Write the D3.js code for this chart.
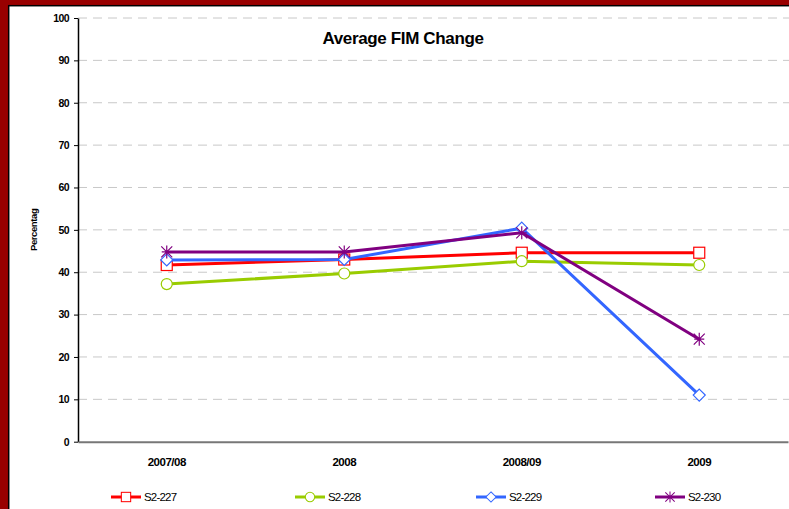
<!DOCTYPE html>
<html>
<head>
<meta charset="utf-8">
<script src="https://cdn.jsdelivr.net/npm/d3@7"></script>
<style>
  body { margin: 0; padding: 0; background: #990000; }
  svg { display: block; font-family: "Liberation Sans", Arial, sans-serif; }
</style>
</head>
<body>
<div id="chart"></div>
<script>
// chart data
const categories = ["2007/08", "2008", "2008/09", "2009"];
const seriesNames = ["S2-227", "S2-228", "S2-229", "S2-230"];
const s2_227 = [41.7, 43.0, 44.6, 44.6];
const s2_228 = [37.2, 39.7, 42.6, 41.7];
const s2_229 = [42.9, 43.0, 50.4, 11.0];
const s2_230 = [44.8, 44.8, 49.3, 24.2];
const yTicks = [0, 10, 20, 30, 40, 50, 60, 70, 80, 90, 100];
const colors = ["#ff0000", "#99cc00", "#3366ff", "#800080"];
const markers = ["square", "circle", "diamond", "star"];

const series = seriesNames.map((name, i) => ({
  name: name,
  values: [s2_227, s2_228, s2_229, s2_230][i],
  color: colors[i],
  marker: markers[i],
}));

const width = 789, height = 509;
const plot = { left: 78, right: 788, top: 18, bottom: 441.7 };

const svg = d3.select("#chart").append("svg")
  .attr("width", width)
  .attr("height", height);

// frame: dark red border with black inner edge
svg.append("rect").attr("width", width).attr("height", height).attr("fill", "#990000");
svg.append("rect")
  .attr("x", 8.7).attr("y", 5.7)
  .attr("width", width + 20).attr("height", height + 20)
  .attr("fill", "#fff").attr("stroke", "#000").attr("stroke-width", 1.5);

const x = d3.scaleBand().domain(categories).range([plot.left, plot.right]);
const y = d3.scaleLinear().domain([0, 100]).range([plot.bottom, plot.top]);

// gridlines
svg.append("g")
  .selectAll("line")
  .data(yTicks.filter((d) => d > 0))
  .join("line")
  .attr("x1", plot.left).attr("x2", plot.right + 5)
  .attr("y1", (d) => y(d)).attr("y2", (d) => y(d))
  .attr("stroke", "#c8c8c8")
  .attr("stroke-width", 1)
  .attr("stroke-dasharray", "9,6");

// y axis
const yAxis = svg.append("g")
  .attr("transform", `translate(${plot.left},0)`)
  .call(d3.axisLeft(y).tickValues(yTicks).tickSize(4).tickSizeOuter(0).tickPadding(5));
yAxis.select(".domain").attr("stroke", "#000").attr("stroke-width", 1.5);
yAxis.selectAll(".tick line").attr("stroke", "#000").attr("stroke-width", 1);
yAxis.selectAll("text")
  .attr("font-size", 10.5).attr("font-weight", "bold")
  .attr("letter-spacing", "-0.6px")
  .attr("fill", "#000");

// x axis
const xAxis = svg.append("g")
  .attr("transform", `translate(0,${plot.bottom})`)
  .call(d3.axisBottom(x).tickSize(0).tickSizeOuter(0).tickPadding(16));
xAxis.select(".domain").attr("stroke", "#777").attr("stroke-width", 2);
xAxis.selectAll("text")
  .attr("font-size", 11.5).attr("font-weight", "bold")
  .attr("letter-spacing", "-0.5px")
  .attr("fill", "#000");

// y axis title
svg.append("text")
  .attr("transform", `translate(37,${(plot.top + plot.bottom) / 2}) rotate(-90)`)
  .attr("text-anchor", "middle")
  .attr("font-size", 9.5).attr("font-weight", "bold")
  .attr("letter-spacing", "-0.4px")
  .text("Percentag");

// title
svg.append("text")
  .attr("x", 403).attr("y", 44)
  .attr("text-anchor", "middle")
  .attr("font-size", 17).attr("font-weight", "bold")
  .attr("letter-spacing", "-0.35px")
  .text("Average FIM Change");

function drawMarker(g, type, color) {
  if (type === "square") {
    g.append("rect").attr("x", -5.5).attr("y", -5.5).attr("width", 11).attr("height", 11)
      .attr("fill", "#fff").attr("stroke", color).attr("stroke-width", 1.2);
  } else if (type === "circle") {
    g.append("circle").attr("r", 5.5)
      .attr("fill", "#fff").attr("stroke", color).attr("stroke-width", 1.2);
  } else if (type === "diamond") {
    g.append("path").attr("d", "M0,-6L6,0L0,6L-6,0Z")
      .attr("fill", "#fff").attr("stroke", color).attr("stroke-width", 1.2);
  } else {
    g.append("path").attr("d", "M-5.5,-5.5L5.5,5.5M-5.5,5.5L5.5,-5.5M0,-6.5L0,6.5M-5,0L5,0")
      .attr("fill", "none").attr("stroke", color).attr("stroke-width", 1.2);
  }
}

const line = d3.line()
  .x((d, i) => x(categories[i]) + x.bandwidth() / 2)
  .y((d) => y(d));

series.forEach((s) => {
  svg.append("path")
    .datum(s.values)
    .attr("d", line)
    .attr("fill", "none")
    .attr("stroke", s.color)
    .attr("stroke-width", 3);
  s.values.forEach((v, i) => {
    const g = svg.append("g")
      .attr("transform", `translate(${x(categories[i]) + x.bandwidth() / 2},${y(v)})`);
    drawMarker(g, s.marker, s.color);
  });
});

// legend
const legendX = [111, 295, 476, 655];
series.forEach((s, i) => {
  const g = svg.append("g").attr("transform", `translate(${legendX[i]},497)`);
  g.append("line").attr("x1", 0).attr("x2", 30).attr("stroke", s.color).attr("stroke-width", 3);
  const m = g.append("g").attr("transform", "translate(15,0) scale(0.85)");
  drawMarker(m, s.marker, s.color);
  g.append("text")
    .attr("x", 33).attr("y", 4)
    .attr("font-size", 11.5)
    .attr("letter-spacing", "-0.8px")
    .text(s.name);
});
</script>
</body>
</html>
